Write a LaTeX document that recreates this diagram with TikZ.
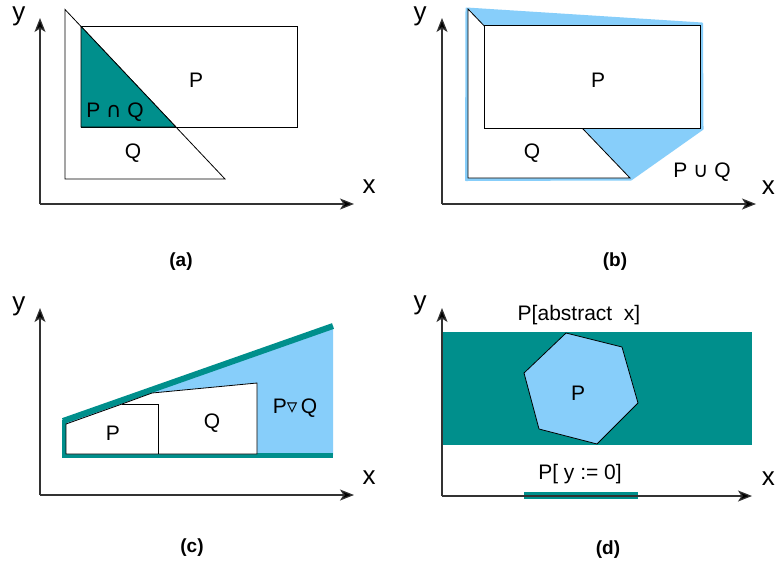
\documentclass[tikz,border=0pt]{standalone}
\usepackage{fontspec}
\setmainfont{Liberation Sans}
\newfontfamily\symfont{DejaVu Sans}
\usetikzlibrary{arrows.meta}
\definecolor{tealc}{RGB}{0,143,140}
\definecolor{hullblue}{RGB}{135,206,250}
\definecolor{axisc}{RGB}{50,50,50}
\begin{document}
\begin{tikzpicture}[x=1pt,y=-1pt,
  axis/.style={draw=axisc,line width=1.2pt,-{Stealth[length=14pt,width=11pt,inset=3.5pt,fill=black]}},
  outline/.style={draw=black,line width=0.8pt},
  lbl/.style={font=\fontsize{21}{23}\selectfont,inner sep=0pt},
  axlbl/.style={font=\fontsize{26}{28}\selectfont,inner sep=0pt},
  caplbl/.style={font=\fontsize{19}{21}\selectfont\bfseries,inner sep=0pt}]
\useasboundingbox (0,0) rectangle (775,568);
\fill[white] (0,0) rectangle (775,568);

% ---------------- panel (a)
\coordinate (aO) at (40,204);
\coordinate (aY) at (40,18);
\coordinate (aX) at (354,204);
\draw[outline] (65,9.5) -- (65,179) -- (225,179) -- cycle;
\draw[outline] (81,26) rectangle (297,127);
\draw[outline,fill=tealc] (81,26.4) -- (81,127) -- (175.9,127) -- cycle;
\draw[axis] (aO) -- (aY);
\draw[axis] (aO) -- (aX);
\node[lbl] (aP) at (196,80) {P};
\node[lbl] (aPQ) at (115,112) {P {\symfont ∩} Q};
\node[lbl] (aQ) at (133,153) {Q};
\node[axlbl] (axl) at (369,187) {x};
\node[axlbl] (ayl) at (19,16) {y};
\node[caplbl] (acap) at (181,262) {(a)};

% ---------------- panel (b)
\coordinate (bO) at (442,204);
\coordinate (bY) at (442,18);
\coordinate (bX) at (756,204);
\filldraw[hullblue,line width=2pt,line join=round] (466.5,8.5) -- (702,23.5) -- (702.5,129) -- (631,179.5) -- (466,180) -- cycle;
\draw[outline,fill=white] (468,9) -- (468,178) -- (630,178) -- cycle;
\draw[outline,fill=white] (484,25) rectangle (700,128);
\draw[axis] (bO) -- (bY);
\draw[axis] (bO) -- (bX);
\node[lbl] (bP) at (598,80) {P};
\node[lbl] (bQ) at (532,153) {Q};
\node[lbl] (bPQ) at (702,172) {P {\symfont ∪} Q};
\node[axlbl,anchor=east] (bxl) at (775,188) {x};
\node[axlbl] (byl) at (420,16) {y};
\node[caplbl] (bcap) at (615,262) {(b)};

% ---------------- panel (c)
\coordinate (cO) at (40,495);
\coordinate (cY) at (40,308);
\coordinate (cX) at (354,495);
\fill[hullblue] (63,421) -- (333,326) -- (333,455) -- (63,455) -- cycle;
\draw[tealc,line width=6pt] (63,421) -- (333,326);
\draw[tealc,line width=5.5pt] (62.3,455.5) -- (333,455.5);
\draw[tealc,line width=3.5pt] (64,420) -- (64,457);
\draw[outline,fill=white] (66,424) -- (122,404) -- (152,393) -- (257,383) -- (257,454) -- (66,454) -- cycle;
\draw[outline] (122,404) -- (158,404) -- (158,454);
\draw[axis] (cO) -- (cY);
\draw[axis] (cO) -- (cX);
\node[lbl] (cP) at (113,433) {P};
\node[lbl] (cQ) at (212,423) {Q};
\node[lbl] (cW) at (295,408) {P{\symfont ▿}\,Q};
\node[axlbl] (cxl) at (369,478) {x};
\node[axlbl] (cyl) at (19,306) {y};
\node[caplbl] (ccap) at (192,548) {(c)};

% ---------------- panel (d)
\coordinate (dO) at (442,496);
\coordinate (dY) at (442,308);
\coordinate (dX) at (752,496);
\fill[tealc] (442,332) rectangle (752,445);
\draw[outline,fill=hullblue,line join=round] (566,333) -- (622,347) -- (638,403) -- (597,444) -- (539,429) -- (524,373) -- cycle;
\draw[tealc,line width=7.5pt] (524,495.5) -- (638,495.5);
\draw[axis] (dO) -- (dY);
\draw[axis] (dO) -- (dX);
\node[lbl] (dP) at (578,393) {P};
\node[lbl] (dabs) at (579,315) {P[abstract\ \ x]};
\node[lbl] (dy0) at (580,474) {P[ y := 0]};
\node[axlbl,anchor=east] (dxl) at (775,479) {x};
\node[axlbl] (dyl) at (420,305) {y};
\node[caplbl] (dcap) at (608,550) {(d)};
\end{tikzpicture}
\end{document}
